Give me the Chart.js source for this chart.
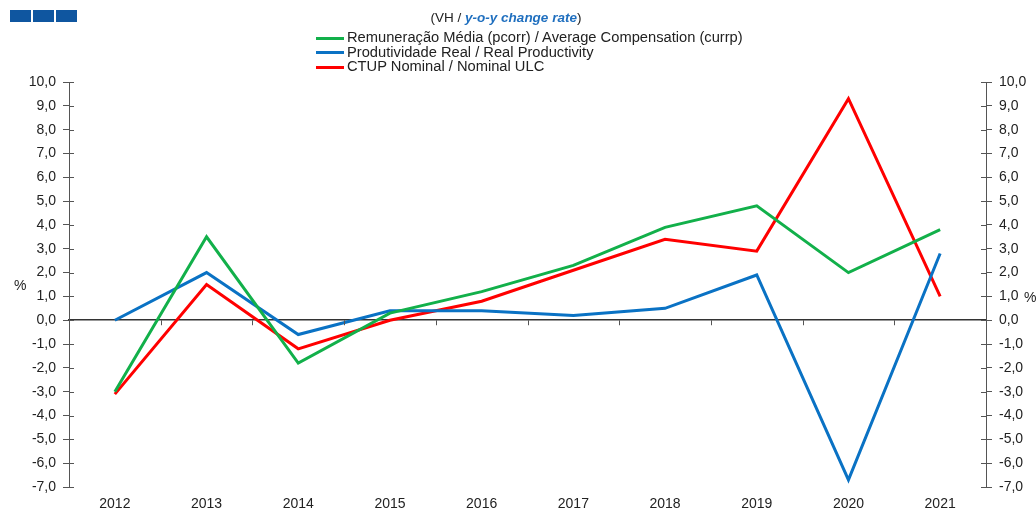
<!DOCTYPE html>
<html>
<head>
<meta charset="utf-8">
<script src="https://cdn.jsdelivr.net/npm/chart.js@4.4.1/dist/chart.umd.min.js"></script>
<style>
  body { margin: 0; background: #fff; font-family: "Liberation Sans", Arial, sans-serif; }
  #wrap { position: relative; width: 1036px; height: 511px; overflow: hidden; }
  #chart { position: absolute; left: 0; top: 0; }
  .sq { position: absolute; top: 10px; width: 21px; height: 12px; background: #0f56a0; }
  #title { position: absolute; top: 10px; left: 0; width: 1012px; text-align: center; font-size: 13.5px; color: #222; }
  #title em { color: #1f6fbf; font-weight: bold; }
  #legend { position: absolute; left: 316px; top: 30px; font-size: 14.7px; color: #222; line-height: 14.5px; }
  #legend .row { white-space: nowrap; }
  #legend .swatch { display: inline-block; width: 28px; height: 3px; vertical-align: middle; margin-right: 3px; }
  .unit { position: absolute; font-size: 14px; color: #222; }
</style>
</head>
<body>
<div id="wrap">
  <canvas id="chart" width="1036" height="511"></canvas>
  <div class="sq" style="left:10px"></div>
  <div class="sq" style="left:33px"></div>
  <div class="sq" style="left:56px"></div>
  <div id="title">(VH / <em>y-o-y change rate</em>)</div>
  <div id="legend"></div>
  <div class="unit" style="left:14px; top:277px">%</div>
  <div class="unit" style="left:1024px; top:289px">%</div>
</div>
<script>
// Data (VH, %)
const years = ['2012', '2013', '2014', '2015', '2016', '2017', '2018', '2019', '2020', '2021'];
const remuneracao = [-3.0, 3.5, -1.8, 0.3, 1.2, 2.3, 3.9, 4.8, 2.0, 3.8];
const produtividade = [0.0, 2.0, -0.6, 0.4, 0.4, 0.2, 0.5, 1.9, -6.7, 2.8];
const ctupNominal = [-3.1, 1.5, -1.2, 0.0, 0.8, 2.1, 3.4, 2.9, 9.3, 1.0];

const seriesNames = [
  'Remuneração Média (pcorr) / Average Compensation (currp)',
  'Produtividade Real / Real Productivity',
  'CTUP Nominal / Nominal ULC',
];
const seriesColors = ['#12b04a', '#0a72c4', '#ff0000'];

const Y_MIN = -7;
const Y_MAX = 10;
const FONT = { family: '"Liberation Sans", Arial, sans-serif', size: 14 };

// Legend as real text, stacked like the original
const legendEl = document.getElementById('legend');
seriesNames.forEach((name, i) => {
  const row = document.createElement('div');
  row.className = 'row';
  row.innerHTML = `<span class="swatch" style="background:${seriesColors[i]}"></span>${name}`;
  legendEl.appendChild(row);
});

const formatTick = (v) => v.toFixed(1).replace('.', ',');

// Inner half of the "+" ticks on the value axes, and the small
// downward ticks between years on the zero line
const axisTicks = {
  id: 'axisTicks',
  afterDraw(chart) {
    const { ctx } = chart;
    ctx.save();
    ctx.strokeStyle = '#555';
    ctx.lineWidth = 1;
    ['y', 'y2'].forEach((id) => {
      const scale = chart.scales[id];
      const x0 = id === 'y' ? scale.right : scale.left;
      const dir = id === 'y' ? 1 : -1;
      scale.ticks.forEach((t) => {
        const py = Math.round(scale.getPixelForValue(t.value)) + 0.5;
        ctx.beginPath();
        ctx.moveTo(x0, py);
        ctx.lineTo(x0 + dir * 5, py);
        ctx.stroke();
      });
    });
    const xs = chart.scales.x;
    const y0 = chart.scales.y.getPixelForValue(0);
    for (let i = 1; i < years.length; i += 1) {
      const px = Math.round((xs.getPixelForValue(i - 1) + xs.getPixelForValue(i)) / 2) + 0.5;
      ctx.beginPath();
      ctx.moveTo(px, y0);
      ctx.lineTo(px, y0 + 5);
      ctx.stroke();
    }
    ctx.restore();
  },
};

const makeDataset = (label, data, color) => ({
  label,
  data,
  borderColor: color,
  backgroundColor: color,
  borderWidth: 3,
  pointRadius: 0,
  tension: 0,
  xAxisID: 'x',
  yAxisID: 'y',
});

const valueAxis = (position, width) => ({
  position,
  min: Y_MIN,
  max: Y_MAX,
  ticks: {
    stepSize: 1,
    color: '#222',
    font: FONT,
    padding: 7,
    callback: (v) => formatTick(v),
  },
  grid: { drawOnChartArea: false, tickLength: 6, color: '#555' },
  border: { color: '#555', width: 1 },
  afterFit: (axis) => { axis.width = width; },
});

// eslint-disable-next-line no-undef
new Chart(document.getElementById('chart').getContext('2d'), {
  type: 'line',
  data: {
    labels: years,
    datasets: [
      makeDataset(seriesNames[0], remuneracao, seriesColors[0]),
      makeDataset(seriesNames[1], produtividade, seriesColors[1]),
      makeDataset(seriesNames[2], ctupNominal, seriesColors[2]),
    ],
  },
  options: {
    responsive: false,
    animation: false,
    layout: { padding: { top: 82, left: 0, right: 0, bottom: 0 } },
    plugins: {
      legend: { display: false },
      tooltip: { enabled: false },
    },
    scales: {
      x: {
        position: 'bottom',
        offset: true,
        grid: { display: false },
        border: { display: false },
        ticks: { color: '#222', font: FONT, padding: 1, maxRotation: 0 },
        afterFit: (axis) => { axis.height = 24; },
      },
      xZero: {
        axis: 'x',
        type: 'category',
        position: { y: 0 },
        offset: true,
        grid: { display: false },
        border: { color: '#333', width: 1.5 },
        ticks: { display: false },
      },
      y: valueAxis('left', 69),
      y2: valueAxis('right', 50),
    },
  },
  plugins: [axisTicks],
});
</script>
</body>
</html>
